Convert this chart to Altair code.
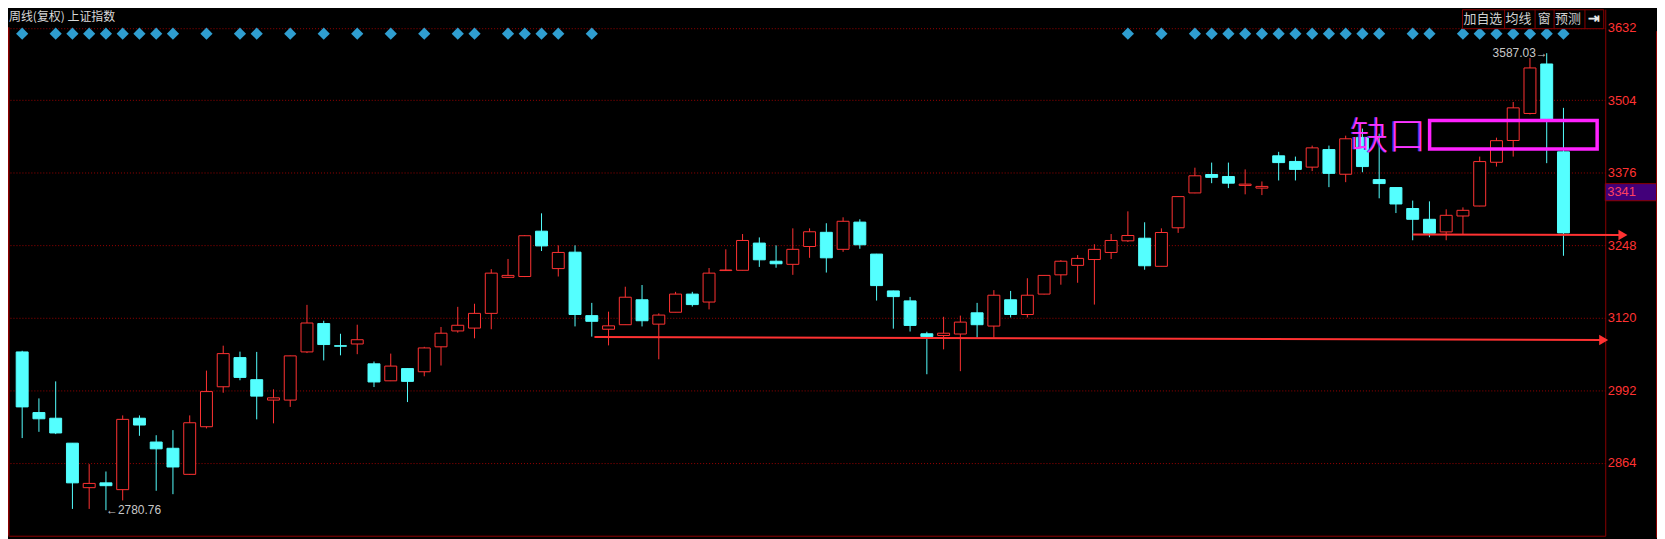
import altair as alt
import numpy as np
import pandas as pd

# ---------------- data (weekly candles of 上证指数) ----------------
opens = [3060, 2953, 2943, 2899, 2820.5, 2829, 2817, 2943, 2901, 2890,
         2844, 2928, 2998.5, 3050, 3011, 2975, 2975, 3060, 3110, 3071,
         3074, 3039, 3009, 3030.6, 3025, 3069, 3097, 3102, 3128, 3191.6,
         3193, 3273, 3207, 3236, 3124, 3100, 3108, 3152, 3109, 3130,
         3162, 3148, 3203.5, 3204, 3252, 3220, 3214.5, 3246, 3271, 3241,
         3289, 3232.6, 3167.6, 3150, 3092, 3089, 3091.6, 3129, 3105.6, 3152,
         3126, 3162, 3196, 3212.7, 3223, 3235.5, 3256, 3260.6, 3211, 3279,
         3340.5, 3373, 3369.5, 3353.7, 3349, 3406, 3396, 3386, 3417, 3373.5,
         3438.5, 3364, 3350, 3313, 3294, 3271.7, 3299.8, 3317.4, 3394.6, 3433,
         3480.7, 3568, 3413]
highs = [3062, 2978, 3008, 2899, 2862, 2849, 2948, 2948, 2913, 2922,
         2948, 3027, 3071, 3060.5, 3060, 2994, 3053.5, 3143, 3115, 3092,
         3108, 3043, 3057, 3031, 3069, 3104, 3139.5, 3145, 3206, 3224,
         3266, 3304.5, 3248, 3248, 3146.5, 3131, 3175, 3178, 3128, 3166,
         3166, 3208, 3241, 3268, 3262, 3248, 3278, 3278, 3287, 3297.5,
         3294, 3233, 3168, 3157, 3095.6, 3122, 3124, 3146.5, 3169, 3167.6,
         3190, 3195.5, 3222, 3230.8, 3250, 3268, 3308, 3288.7, 3278, 3334.5,
         3385, 3394, 3394, 3382, 3360.7, 3413, 3404.6, 3424, 3424, 3441.5,
         3454, 3445, 3350.5, 3327, 3325.6, 3311.6, 3315, 3404.6, 3438, 3501,
         3578.5, 3587.03, 3490.6]
lows = [2908, 2919, 2915, 2783, 2783, 2780.76, 2798, 2912, 2815, 2809,
        2843, 2925, 2988, 3010, 2941, 2934, 2963, 3058, 3045, 3054,
        3056, 2998, 3008.5, 2971.5, 3017, 3036, 3094, 3084, 3100, 3191,
        3192, 3238, 3193, 3105, 3087, 3071.5, 3108, 3105, 3047, 3130,
        3140, 3135, 3203.5, 3204, 3210, 3208.5, 3196, 3226, 3200, 3236.6,
        3242, 3150.6, 3101, 3096, 3020.6, 3064.5, 3026, 3085, 3085, 3120.7,
        3120.7, 3161.5, 3178.6, 3182, 3143.5, 3224, 3254, 3205, 3211, 3270,
        3340, 3357.7, 3349, 3338, 3336.7, 3362.5, 3362.5, 3379, 3350.7, 3359.5,
        3377, 3331, 3305, 3257, 3262.4, 3257, 3267.7, 3317, 3387, 3404.6,
        3479, 3393, 3229.6]
closes = [2963, 2942, 2917, 2829, 2828, 2824, 2941, 2931, 2889, 2857,
          2935, 2990, 3057, 3015, 2982, 2979, 3053, 3111, 3073, 3070,
          3081.5, 3007, 3035, 3008, 3067, 3093, 3107, 3128, 3199, 3195,
          3265, 3247, 3235.5, 3126, 3114, 3106, 3156.5, 3115, 3125, 3162,
          3143.5, 3199, 3204.5, 3256.6, 3222.5, 3215.5, 3241, 3272, 3226, 3290.5,
          3249, 3177, 3157.6, 3106.7, 3087, 3093, 3112.6, 3108, 3160, 3126,
          3160, 3195, 3220, 3225, 3241, 3256.6, 3265.4, 3212, 3270.7, 3334,
          3370.7, 3368, 3357.7, 3356, 3352, 3394, 3382, 3420, 3375, 3436,
          3387, 3357, 3321, 3294, 3269.4, 3301, 3309.8, 3395.8, 3432.7, 3490.6,
          3561, 3471, 3270]

diamond_weeks = [0, 2, 3, 4, 5, 6, 7, 8, 9, 11, 13, 14, 16, 18, 20, 22, 24, 26, 27,
                 29, 30, 31, 32, 34, 66, 68, 70, 71, 72, 73, 74, 75, 76, 77, 78, 79,
                 80, 81, 83, 84, 86, 87, 88, 89, 90, 91, 92]
y_ticks = [2864, 2992, 3120, 3248, 3376, 3504, 3632]

# hand-drawn lines: start week / price, end week / price
line_starts_x = [34.16, 83.0]
line_starts_y = [3086.3, 3267.1]
line_ends_x = [94.4, 95.55]
line_ends_y = [3081.0, 3266.3]
# gap box: week from / to, price top / bottom
gap_x = [84.01, 94.01]
gap_y = [3468.2, 3417.8]
gap_text = "缺口"
gap_text_pos = [81.55, 3438.0]
high_text, high_week, high_price = "3587.03→", 91, 3587.03
low_text, low_week, low_price = "←2780.76", 5, 2780.76
last_tag = 3341
tag_box = [3356.9, 3326.7]
title_text = "周线(复权) 上证指数"
buttons = ["加自选", "均线", "窗", "预测", "⇥"]

# ---------------- styling ----------------
RED = "#ff3232"
CYAN = "#54ffff"
DARKRED = "#8b0000"
GREY = "#c8c8c8"
MAGENTA = "#ff22ff"
W, H = 1605, 529

df = pd.DataFrame({"idx": np.arange(len(opens)), "open": opens, "high": highs,
                   "low": lows, "close": closes})
up = df["close"] >= df["open"]
df["stroke"] = np.where(up, RED, CYAN)
df["fill"] = np.where(up, "#000000", CYAN)

xscale = alt.Scale(domain=[-0.549, 94.197], nice=False, zero=False)
yscale = alt.Scale(domain=[2735.7, 3664.5], nice=False, zero=False)
xaxis = alt.Axis(labels=False, ticks=False, grid=False, domain=True,
                 domainColor=DARKRED, domainWidth=1, title=None)
yaxis = alt.Axis(orient="right", values=y_ticks, title=None, ticks=False, tickSize=0,
                 labelPadding=2, labelColor=RED, labelFontSize=13,
                 labelFont="Liberation Sans", labelOverlap=False, labelBound=False,
                 labelFlush=False, domain=True, domainColor=DARKRED, domainWidth=1,
                 grid=True, gridColor="#9a0000", gridDash=[1, 2], gridWidth=1,
                 format="d")


def X(f):
    return alt.X(f, type="quantitative", scale=xscale, axis=xaxis)


def Y(f):
    return alt.Y(f, type="quantitative", scale=yscale, axis=yaxis)


base = alt.Chart(df)
wicks = base.mark_rule(strokeWidth=1).encode(
    x=X("idx"), y=Y("low"), y2=alt.Y2("high"), color=alt.Color("stroke:N", scale=None))
bodies = base.mark_bar(size=12, strokeWidth=1).encode(
    x=X("idx"), y=Y("open"), y2=alt.Y2("close"),
    fill=alt.Fill("fill:N", scale=None), stroke=alt.Stroke("stroke:N", scale=None))

dia = alt.Chart(pd.DataFrame({"idx": diamond_weeks})).mark_point(
    shape="diamond", filled=True, size=150, color="#2f9ed0", opacity=1).encode(
    x=X("idx"), y=alt.value(24.5))

ldf = pd.DataFrame({"x": line_starts_x, "y": line_starts_y, "x2": line_ends_x, "y2": line_ends_y})
trend = alt.Chart(ldf).mark_rule(color=RED, strokeWidth=2).encode(
    x=X("x"), y=Y("y"), x2=alt.X2("x2"), y2=alt.Y2("y2"))
heads = alt.Chart(ldf).mark_point(shape="triangle-right", filled=True, size=110,
                                  color=RED, opacity=1).encode(x=X("x2"), y=Y("y2"))

box = alt.Chart(pd.DataFrame({"x": [gap_x[0]], "x2": [gap_x[1]], "y": [gap_y[0]], "y2": [gap_y[1]]})
                ).mark_rect(fillOpacity=0, stroke=MAGENTA, strokeWidth=3.5).encode(
    x=X("x"), x2=alt.X2("x2"), y=Y("y"), y2=alt.Y2("y2"))

gdf = pd.DataFrame({"t": [gap_text], "x": [gap_text_pos[0]], "y": [gap_text_pos[1]]})
gap_shadow = alt.Chart(gdf).mark_text(fontSize=38, font="Noto Sans CJK SC", fontWeight=300,
                                      color="#5a38d8", dx=-1.2, baseline="middle",
                                      align="center").encode(
    x=X("x"), y=Y("y"), text="t:N")
gap_lbl = alt.Chart(gdf).mark_text(fontSize=38, font="Noto Sans CJK SC", fontWeight=300,
                                   color="#ff33ff", baseline="middle", align="center").encode(
    x=X("x"), y=Y("y"), text="t:N")

hdf = pd.DataFrame({"t": [high_text], "x": [high_week], "y": [high_price]})
hi_lbl = alt.Chart(hdf).mark_text(fontSize=12, font="Liberation Sans", color=GREY,
                                  align="right", baseline="middle", dx=1).encode(
    x=X("x"), y=Y("y"), text="t:N")
ldf2 = pd.DataFrame({"t": [low_text], "x": [low_week], "y": [low_price]})
lo_lbl = alt.Chart(ldf2).mark_text(fontSize=12, font="Liberation Sans", color=GREY,
                                   align="left", baseline="middle", dx=0).encode(
    x=X("x"), y=Y("y"), text="t:N")

one = pd.DataFrame({"a": [0]})
title = alt.Chart(one).mark_text(text=title_text, fontSize=12, font="Noto Sans CJK SC",
                                 color="#d8d8d8", align="left", baseline="middle").encode(
    x=alt.value(1), y=alt.value(8))

btn_box = alt.Chart(one).mark_rect(fill="#000000", stroke="#8b0000", strokeWidth=1).encode(
    x=alt.value(1461.5), x2=alt.value(1603.5), y=alt.value(0.5), y2=alt.value(19.5))
btn_layers = []
for sep in [1503.9, 1534.5, 1553.6, 1584.6]:
    btn_layers.append(alt.Chart(one).mark_rule(color="#8b0000", strokeWidth=1).encode(
        x=alt.value(sep), y=alt.value(0.5), y2=alt.value(19.5)))
for label, cx in zip(buttons, [1482, 1517.8, 1543.7, 1567.6, 1593.8]):
    btn_layers.append(alt.Chart(one).mark_text(
        text=label, fontSize=13 if label != "⇥" else 14, font="Noto Sans CJK SC",
        fontWeight="normal" if label != "⇥" else "bold",
        color="#d0d0d0" if label != "⇥" else "#e8e8e8", align="center",
        baseline="middle").encode(x=alt.value(cx), y=alt.value(10)))

tag_rect = alt.Chart(one).mark_rect(fill="#42007a", stroke="#8b0000", strokeWidth=1).encode(
    x=alt.value(W), x2=alt.value(W + 52), y=alt.datum(tag_box[0], scale=yscale), y2=alt.datum(tag_box[1]))
tag_text = alt.Chart(one).mark_text(text=str(last_tag), fontSize=13, font="Liberation Sans",
                                    color="#ff4060", align="left", baseline="middle").encode(
    x=alt.value(W + 2), y=alt.datum(last_tag + 0.5, scale=yscale))

left_border = alt.Chart(one).mark_rule(color="#8b0000", strokeWidth=1.5).encode(
    x=alt.value(0.75), y=alt.value(18), y2=alt.value(H))
right_border = alt.Chart(one).mark_rule(color="#8b0000", strokeWidth=1).encode(
    x=alt.value(W + 51.5), y=alt.value(22), y2=alt.value(H + 2))

chart = alt.layer(
    wicks, bodies, dia, trend, heads, box, gap_shadow, gap_lbl, hi_lbl, lo_lbl, title,
    btn_box, *btn_layers, tag_rect, tag_text, left_border, right_border
).properties(
    width=W, height=H,
    padding={"left": 0, "top": 0, "right": 52, "bottom": 2},
    autosize=alt.AutoSizeParams(type="none"),
    background="#000000",
).configure_view(strokeWidth=0)

chart.save("out.html", embed_options={"renderer": "svg", "actions": False})
